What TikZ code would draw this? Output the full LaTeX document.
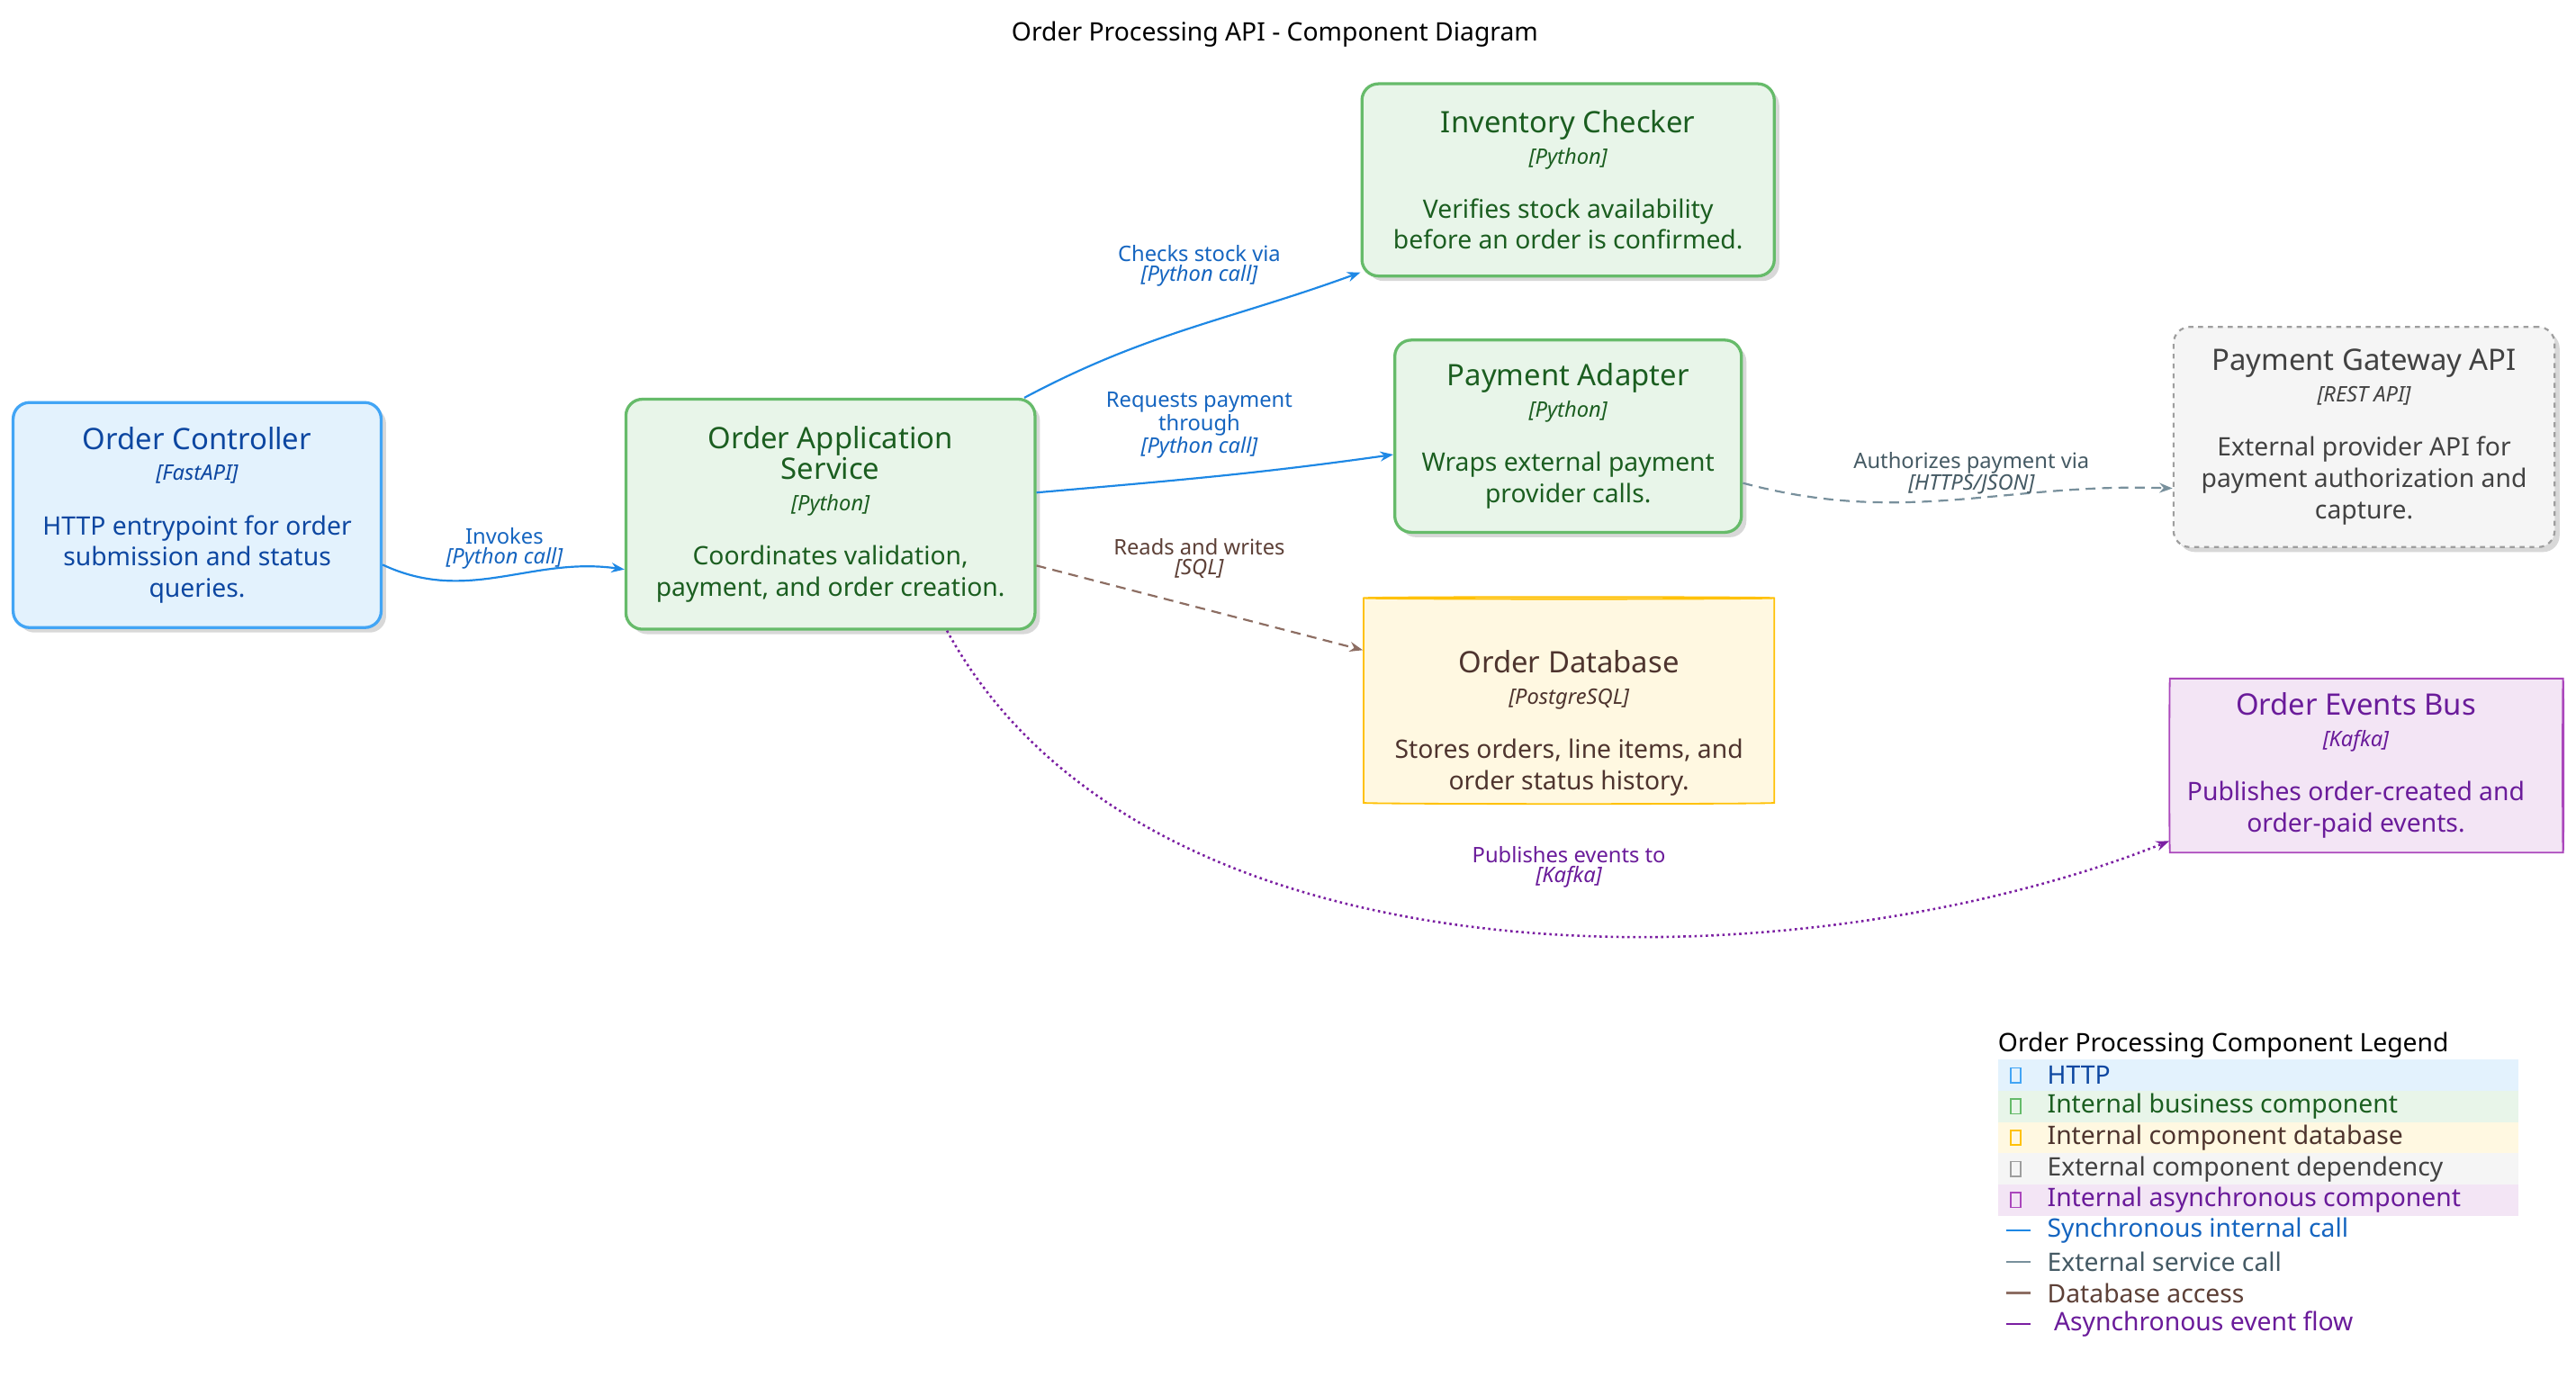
\documentclass[tikz,border=0pt]{standalone}
\usepackage{fontspec}
\setmainfont{Noto Sans}
\usetikzlibrary{shapes.geometric,shadows,arrows.meta}
\definecolor{bluef}{HTML}{E3F2FD}\definecolor{blueb}{HTML}{42A5F5}\definecolor{bluet}{HTML}{0D47A1}
\definecolor{greenf}{HTML}{E8F5E9}\definecolor{greenb}{HTML}{66BB6A}\definecolor{greent}{HTML}{1B5E20}
\definecolor{yelf}{HTML}{FFF8E1}\definecolor{yelb}{HTML}{FFC107}\definecolor{yelt}{HTML}{4E342E}
\definecolor{greyf}{HTML}{F5F5F5}\definecolor{greyb}{HTML}{9E9E9E}\definecolor{greyt}{HTML}{424242}
\definecolor{purf}{HTML}{F3E5F5}\definecolor{purb}{HTML}{AB47BC}\definecolor{purt}{HTML}{6A1B9A}
\definecolor{syncl}{HTML}{1E88E5}\definecolor{synct}{HTML}{1565C0}
\definecolor{extl}{HTML}{78909C}\definecolor{extt}{HTML}{455A64}
\definecolor{dbl}{HTML}{8D6E63}\definecolor{dbt}{HTML}{5D4037}
\definecolor{asl}{HTML}{7B1FA2}
\newcommand{\ctl}[1]{{\fontsize{18}{22}\selectfont\bfseries #1}}
\newcommand{\ctc}[1]{{\fontsize{13}{16}\selectfont\itshape #1}}
\newcommand{\elb}[1]{{\fontsize{13}{16}\selectfont\bfseries #1}}
\newcommand{\eli}[1]{{\fontsize{13}{16}\selectfont\itshape #1}}
\tikzset{
 comp/.style={rounded corners=10pt, line width=1.8pt, align=center, font=\fontsize{15.5}{19}\selectfont, inner sep=4pt,
   drop shadow={shadow xshift=3pt,shadow yshift=-3pt,opacity=.3}},
 bluec/.style={comp, draw=blueb, fill=bluef, text=bluet},
 greenc/.style={comp, draw=greenb, fill=greenf, text=greent},
 sync/.style={draw=syncl, line width=1.2pt, -{Stealth[length=8pt,width=6pt]}},
 ext/.style={draw=extl, line width=1.2pt, dash pattern=on 6pt off 4pt, -{Stealth[length=8pt,width=6pt]}},
 dba/.style={draw=dbl, line width=1.2pt, dash pattern=on 6pt off 4pt, -{Stealth[length=8pt,width=6pt]}},
 asy/.style={draw=asl, line width=1.4pt, dotted, -{Stealth[length=8pt,width=6pt]}},
 lg/.style={anchor=west, font=\fontsize{15.5}{19}\selectfont, inner sep=0pt},
}
\begin{document}
\begin{tikzpicture}[x=1pt,y=-1pt]
\useasboundingbox[fill=white] (0,0) rectangle (1568,844);
\node[font=\fontsize{15.5}{19}\selectfont\bfseries] (title) at (776,21) {Order Processing API - Component Diagram};

\node[bluec, minimum width=224pt, minimum height=137pt] (ctrl) at (120,313.5)
 {\ctl{Order Controller}\\\ctc{[FastAPI]}\\[14pt]HTTP entrypoint for order\\submission and status\\queries.};
\node[greenc, minimum width=249pt, minimum height=140pt] (app) at (505.5,313)
 {\ctl{Order Application}\\\ctl{Service}\\\ctc{[Python]}\\[14pt]Coordinates validation,\\payment, and order creation.};
\node[greenc, minimum width=251pt, minimum height=117pt] (inv) at (954.5,109.5)
 {\ctl{Inventory Checker}\\\ctc{[Python]}\\[14pt]Verifies stock availability\\before an order is confirmed.};
\node[greenc, minimum width=211pt, minimum height=117pt] (pay) at (954.5,265.5)
 {\ctl{Payment Adapter}\\\ctc{[Python]}\\[14pt]Wraps external payment\\provider calls.};
\node[comp, draw=greyb, fill=greyf, text=greyt, line width=1.2pt, dashed, drop shadow={opacity=0}, minimum width=232pt, minimum height=134pt] (gw) at (1439,266)
 {\ctl{Payment Gateway API}\\\ctc{[REST API]}\\[14pt]External provider API for\\payment authorization and\\capture.};
\node[cylinder, shape border rotate=90, aspect=0.2, draw=yelb, fill=yelf, line width=1pt, minimum width=250pt, minimum height=126pt] (db) at (955,427) {};
\node[align=center, text=yelt, font=\fontsize{15.5}{19}\selectfont] (dbt) at (955,440)
 {\ctl{Order Database}\\\ctc{[PostgreSQL]}\\[14pt]Stores orders, line items, and\\order status history.};
\node[cylinder, shape border rotate=0, aspect=0.1, draw=purb, fill=purf, line width=1pt, minimum width=106pt, minimum height=240pt] (bus) at (1440,466) {};
\node[align=center, text=purt, font=\fontsize{15.5}{19}\selectfont] (bust) at (1434,466)
 {\ctl{Order Events Bus}\\\ctc{[Kafka]}\\[14pt]Publishes order-created and\\order-paid events.};

\draw[sync] (ctrl.-15.7) to[out=-25,in=172] (app.195);
\node[text=synct, align=center] (l1) at (307,334) {\elb{Invokes}\\\eli{[Python call]}};
\draw[sync] (app.31) to[out=28,in=200] (inv.204);
\node[text=synct, align=center] (l2) at (730,162) {\elb{Checks stock via}\\\eli{[Python call]}};
\draw[sync] (app.6.4) to[out=5,in=188] (pay.186);
\node[text=synct, align=center] (l3) at (730,259) {\elb{Requests payment}\\\elb{through}\\\eli{[Python call]}};
\draw[dba] (app.-14.4) -- (db.166);
\node[text=dbt, align=center] (l4) at (730,340) {\elb{Reads and writes}\\\eli{[SQL]}};
\draw[ext] (pay.-15.3) to[out=-15,in=178] (gw.195.4);
\node[text=extt, align=center] (l5) at (1200,288) {\elb{Authorizes payment via}\\\eli{[HTTPS/JSON]}};
\draw[asy] (app.-45) .. controls (700,610) and (1100,600) .. (bus.201);
\node[text=purt, align=center] (l6) at (955,528) {\elb{Publishes events to}\\\eli{[Kafka]}};

% legend
\node[anchor=west, font=\fontsize{15.5}{19}\selectfont\bfseries, inner sep=0pt] (lgt) at (1216,636) {Order Processing Component Legend};
\foreach \i/\f/\b/\t/\s in {0/bluef/blueb/bluet/HTTP/API entrypoint component,
  1/greenf/greenb/greent/Internal business component,
  2/yelf/yelb/yelt/Internal component database,
  3/greyf/greyb/greyt/External component dependency,
  4/purf/purb/purt/Internal asynchronous component}{
  \fill[\f] (1216,{645+19*\i}) rectangle (1533,{664+19*\i});
  \draw[\b, line width=0.8pt] (1224,{650+19*\i}) rectangle (1230,{659+19*\i});
  \node[lg, text=\t] at (1246,{654.5+19*\i}) {\s};
}
\foreach \i/\l/\t/\s in {0/syncl/synct/Synchronous internal call,
  1/extl/extt/External service call,
  2/dbl/dbt/Database access,
  3/asl/purt/\ Asynchronous event flow}{
  \draw[\l, line width=1.2pt] (1221,{749+19*\i}) -- (1236,{749+19*\i});
  \node[lg, text=\t] at (1246,{749+19*\i}) {\s};
}
\end{tikzpicture}
\end{document}
